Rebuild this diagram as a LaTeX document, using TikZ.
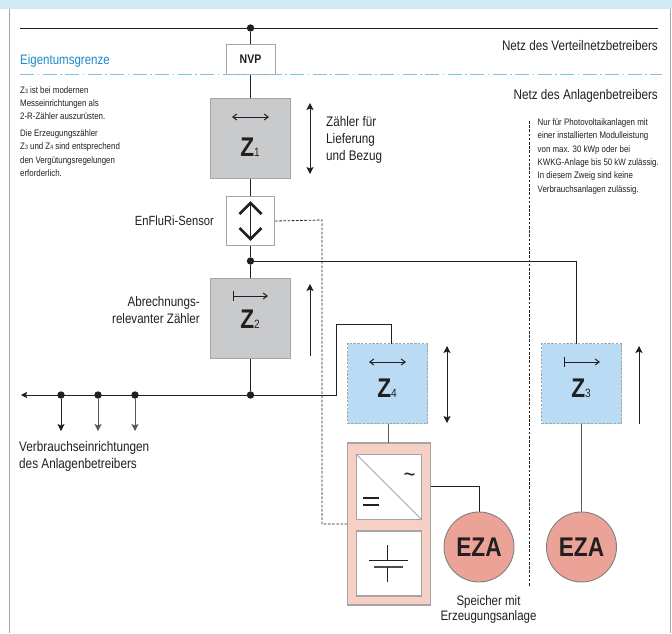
\documentclass[tikz,border=0pt]{standalone}
\usepackage{fontspec}
\setmainfont[FakeStretch=0.84]{Liberation Sans}
\usetikzlibrary{arrows.meta,calc}
\definecolor{txt}{HTML}{231F20}
\definecolor{frameg}{HTML}{A5A5A5}
\definecolor{meterg}{HTML}{C9CACB}
\definecolor{meterb}{HTML}{B9DCF4}
\definecolor{pinkb}{HTML}{F6CFC5}
\definecolor{ezac}{HTML}{EBA397}
\definecolor{band}{HTML}{D1E8F7}
\definecolor{ownblue}{HTML}{1B8ACB}
\definecolor{dashb}{HTML}{7FC1E4}
\tikzset{
  x=1pt,y=-1pt,
  wire/.style={draw=txt,line width=0.8pt},
  greywire/.style={draw=black!65,line width=1pt},
  ctrl/.style={draw=txt,line width=0.8pt,dash pattern=on 2.6pt off 1.6pt},
  dotn/.style={circle,fill=txt,inner sep=0pt,minimum size=7.4pt},
  meter/.style={draw=frameg,line width=1pt,fill=meterg,minimum width=80pt,minimum height=80pt,inner sep=0pt},
  meterz/.style={draw=frameg,line width=0.8pt,dash pattern=on 2.4pt off 1.4pt,fill=meterb,minimum width=80pt,minimum height=80pt,inner sep=0pt},
  zlab/.style={inner sep=0pt,text=txt,font=\fontsize{27}{27}\selectfont\bfseries},
  ezan/.style={circle,draw=black!50,line width=0.9pt,fill=ezac,minimum size=70pt,inner sep=0pt,text=txt,font=\fontsize{27}{27}\selectfont\bfseries},
  whitebox/.style={draw=frameg,line width=1.2pt,fill=white,minimum width=65pt,minimum height=65pt,inner sep=0pt},
  lab/.style={inner sep=0pt,text=txt,align=left},
  small/.style={inner sep=0pt,text=txt,font=\fontsize{9.4}{13.3}\selectfont,align=left},
  dirarrow/.style={draw=txt,line width=0.8pt,-{Stealth[length=7pt,width=7pt,inset=1.5pt]}},
  dirboth/.style={draw=txt,line width=0.8pt,{Stealth[length=7pt,width=7pt,inset=1.5pt]}-{Stealth[length=7pt,width=7pt,inset=1.5pt]}},
  inarrow/.style={draw=txt,line width=1pt,{Straight Barb[length=4pt,width=6pt]}-{Straight Barb[length=4pt,width=6pt]}},
  inbar/.style={draw=txt,line width=1pt,{Bar[width=10pt,length=1pt]}-{Straight Barb[length=4pt,width=6pt]}},
}
\newcommand{\zsub}[1]{Z{\fontsize{12}{12}\selectfont\mdseries #1}}
\newcommand{\tinysub}[1]{{\fontsize{6.2}{6}\selectfont #1}}
\begin{document}
\begin{tikzpicture}
\useasboundingbox (0,0) rectangle (672,633);
\fill[white] (0,0) rectangle (672,633);
\fill[band] (0,0) rectangle (672,8.5);
\draw[draw=frameg,line width=1pt] (9.5,8.5) -- (9.5,633);
\draw[draw=frameg,line width=1.4pt] (670.5,8.5) -- (670.5,633);

% nodes
\node[draw=frameg,line width=1pt,fill=white,minimum width=49pt,minimum height=30pt,inner sep=0pt,font=\fontsize{12.5}{12}\selectfont\bfseries,text=txt] (nvp) at (250.5,59) {NVP};
\node[meter] (z1) at (250.5,138.5) {};
\node[draw=frameg,line width=0.9pt,fill=white,minimum width=48pt,minimum height=49pt,inner sep=0pt] (sensor) at (250.5,221) {};
\node[meter] (z2) at (250.5,318) {};
\node[meterz] (z4) at (387.5,383.5) {};
\node[draw=frameg,line width=1.1pt,fill=pinkb,minimum width=83pt,minimum height=162pt,inner sep=0pt] (store) at (389,524) {};
\node[whitebox] (conv) at (389,487) {};
\node[whitebox] (batt) at (389,563.5) {};
\node[dotn] (d0) at (250.5,28) {};
\node[dotn] (d1) at (250.5,261) {};
\node[dotn] (d2) at (250.5,395) {};
\node[dotn] (c1) at (61,395) {};
\node[dotn] (c2) at (98,395) {};
\node[dotn] (c3) at (135,395) {};

% free ends
\coordinate (busL) at (20,28.5);
\coordinate (busR) at (658,28.5);
\coordinate (ownL) at (20,74.5);
\coordinate (ownR) at (662,74.5);
\coordinate (loadL) at (21,395);
\coordinate (c1e) at (61,431);
\coordinate (c2e) at (98,431);
\coordinate (c3e) at (135,431);
\coordinate (z3a) at (581.5,383.5);
\coordinate (eza2a) at (581.5,547);

% wires
\path[wire] (busL) -- (busR);
\path[wire] (d0) -- (nvp);
\path[wire] (nvp) -- (z1);
\path[wire] (z1) -- (sensor);
\path[wire] (sensor) -- (d1);
\path[wire] (d1) -- (z2);
\path[wire] (z2) -- (d2);
\path[wire] (d1) -- (576,261) -- (576,343.5);
\path[wire,-{Stealth[length=6pt,width=6pt,inset=1pt]}] (d2) -- (loadL);
\path[wire] (d2) -- (336,395) -- (336,324) -- (391,324) -- (391,343.5);
\path[wire,-{Stealth[length=7pt,width=7pt,inset=1.5pt]}] (c1) -- (c1e);
\path[greywire,-{Stealth[length=7pt,width=7pt,inset=1.5pt]}] (c2) -- (c2e);
\path[greywire,-{Stealth[length=7pt,width=7pt,inset=1.5pt]}] (c3) -- (c3e);
\path[greywire] (388,424) -- (388,443);
\path[wire] (store.east |- 0,486.5) -- (479,486.5) -- (479,512);
\path[greywire,line width=1.3pt] (z3a) -- (eza2a);

% boxes over wires
\node[meterz] (z3) at (z3a) {};
\node[ezan] (eza1) at (479,547) {EZA};
\node[ezan] (eza2) at (eza2a) {EZA};

% ownership line
\draw[dashb,line width=1.3pt,dash pattern=on 14pt off 3.5pt on 1.5pt off 3.5pt] (ownL) -- (ownR);

% control line and separator
\path[ctrl] (sensor.east) -- (322,220) -- (322,524) -- (store.west |- 0,524);
\draw[txt,line width=0.7pt,dash pattern=on 2.6pt off 1.6pt] (529,121) -- (529,587);

% direction arrows
\path[dirboth] (310,103) -- (310,174);
\path[dirarrow] (310,356) -- (310,284);
\path[dirboth] (447,346) -- (447,423);
\path[dirarrow] (639,424) -- (639,346);

% meter symbols
\path[inarrow] (232,117) -- (269,117);
\path[inbar] (232.5,296) -- (268,296);
\path[inarrow] (369,362) -- (406,362);
\path[inbar] (563.5,362) -- (600,362);
\path[draw=txt,line width=1.5pt] (250.5,205) -- (250.5,238);
\draw[txt,line width=2.6pt] (239.5,214) -- (250.5,203) -- (261.5,214);
\draw[txt,line width=2.6pt] (239.5,228) -- (250.5,239) -- (261.5,228);

\node[zlab] (z1t) at (250,147.5) {\zsub{1}};
\node[zlab] (z2t) at (250,319.5) {\zsub{2}};
\node[zlab] (z4t) at (387,388) {\zsub{4}};
\node[zlab] (z3t) at (581,388) {\zsub{3}};

% converter
\draw[frameg,line width=0.8pt] (conv.north west) -- (conv.south east);
\node[inner sep=0pt,text=txt,font=\fontsize{24}{24}\selectfont] (tilde) at (409.5,478) {\char"007E};
\draw[txt,line width=1.6pt] (363,498) -- (379,498) (363,505) -- (379,505);
% battery
\draw[txt,line width=0.9pt] (387,545) -- (387,560) (368.5,560) -- (407.5,560);
\draw[black!70,line width=1.1pt] (374,567) -- (403,567);
\draw[txt,line width=0.9pt] (387,567) -- (387,581.5);

% texts
\node[lab,anchor=west,text=ownblue,font=\fontsize{13.7}{15}\selectfont] (eig) at (20,60.5) {Eigentumsgrenze};
\node[lab,anchor=east,font=\fontsize{13.9}{15}\selectfont] (nv) at (658,46) {Netz des Verteilnetzbetreibers};
\node[lab,anchor=east,font=\fontsize{13.9}{15}\selectfont] (na) at (658,95.5) {Netz des Anlagenbetreibers};
\node[lab,anchor=north west,font=\fontsize{13.9}{17.2}\selectfont] (zfl) at (326,116) {Zähler für\\Lieferung\\und Bezug};
\node[lab,anchor=east,font=\fontsize{13.3}{15}\selectfont] (enf) at (214,221) {EnFluRi-Sensor};
\node[lab,anchor=east,align=right,font=\fontsize{13.8}{17}\selectfont] (abr) at (200,310.5) {Abrechnungs-\\relevanter Zähler};
\node[lab,anchor=north west,font=\fontsize{14}{16.7}\selectfont] (verb) at (19,441) {Verbrauchseinrichtungen\\des Anlagenbetreibers};
\node[lab,align=center,font=\fontsize{13.7}{15.7}\selectfont] (spe) at (488.5,609.5) {Speicher mit\\Erzeugungsanlage};
\node[small,anchor=north west] (s1) at (20,86) {Z\tinysub{3} ist bei modernen\\Messeinrichtungen als\\2-R-Zähler auszurüsten.};
\node[small,anchor=north west] (s2) at (20,129.5) {Die Erzeugungszähler\\Z\tinysub{3} und Z\tinysub{4} sind entsprechend\\den Vergütungsregelungen\\erforderlich.};
\node[small,anchor=north west] (s3) at (537.5,118.5) {Nur für Photovoltaikanlagen mit\\einer installierten Modulleistung\\von max. 30 kWp oder bei\\KWKG-Anlage bis 50 kW zulässig.\\In diesem Zweig sind keine\\Verbrauchsanlagen zulässig.};
\end{tikzpicture}
\end{document}
